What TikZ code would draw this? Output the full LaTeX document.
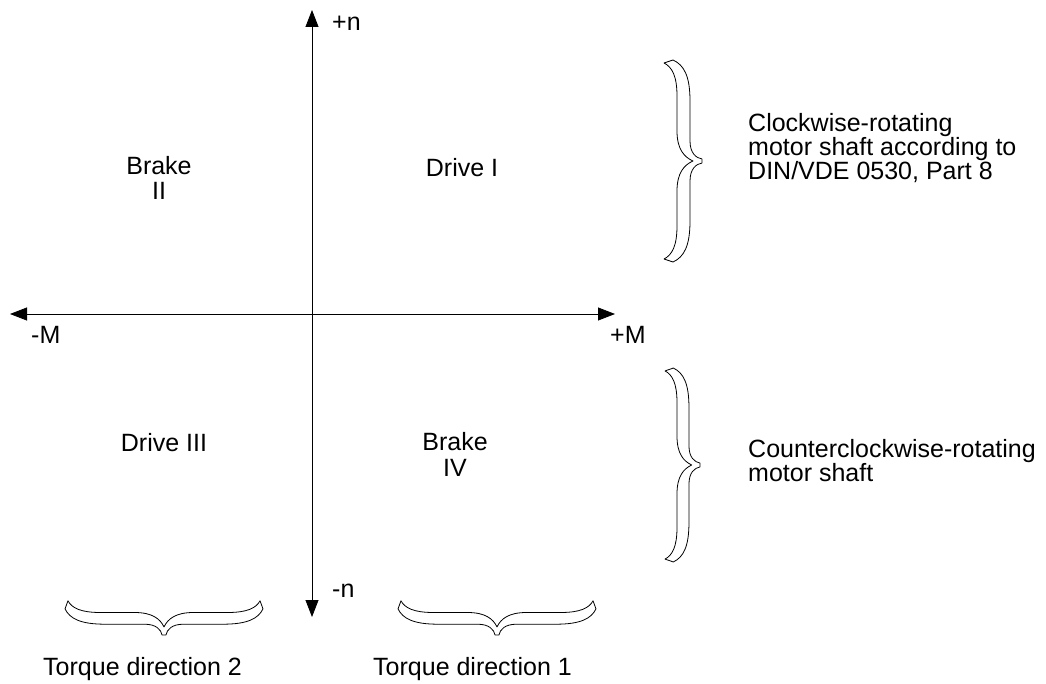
\documentclass[tikz,border=0pt]{standalone}
\usepackage{fontspec}
\setmainfont{Liberation Sans}
\usetikzlibrary{arrows.meta}
\tikzset{
  lbl/.style={font=\fontsize{25}{24}\selectfont, inner sep=0pt},
  axis/.style={line width=0.8pt, {Triangle[length=17pt,width=13pt]}-{Triangle[length=17pt,width=13pt]}},
  bracestyle/.style={line width=0.8pt, draw=black, fill=white, line join=round},
  mybrace/.pic={
    \draw[bracestyle] (-38,98) -- (-29,101)
      .. controls (-18,96) and (-12,85) .. (-12,60) -- (-12,20)
      .. controls (-12,8) and (-6,3) .. (0,2) -- (0,-2)
      .. controls (-6,-3) and (-12,-8) .. (-12,-20) -- (-12,-60)
      .. controls (-12,-85) and (-18,-96) .. (-29,-101) -- (-38,-98)
      .. controls (-30,-94) and (-25,-85) .. (-25,-65) -- (-25,-30)
      .. controls (-25,-12) and (-18,-4) .. (-9,0)
      .. controls (-18,4) and (-25,12) .. (-25,30) -- (-25,65)
      .. controls (-25,85) and (-30,94) .. (-38,98) -- cycle;
  }
}
\begin{document}
\begin{tikzpicture}[x=1pt,y=1pt]
\useasboundingbox (0,0) rectangle (1046,-684);
% axes
\coordinate (ntop) at (312,-10);
\coordinate (nbot) at (312,-617);
\coordinate (mleft) at (10,-314);
\coordinate (mright) at (615,-314);
\draw[axis] (nbot) -- (ntop);
\draw[axis] (mleft) -- (mright);
% axis labels
\node[lbl, anchor=base west] (pn) at (332,-31) {+n};
\node[lbl, anchor=base west] (mn) at (332,-597) {-n};
\node[lbl, anchor=base west] (mM) at (31,-344) {-M};
\node[lbl, anchor=base west] (pM) at (610,-343) {+M};
% quadrant labels
\node[lbl, anchor=base] (brake2a) at (159,-175) {Brake};
\node[lbl, anchor=base] (brake2b) at (159,-200) {II};
\node[lbl, anchor=base] (drive1) at (462,-177) {Drive I};
\node[lbl, anchor=base] (drive3) at (164,-451) {Drive III};
\node[lbl, anchor=base] (brake4a) at (455,-450) {Brake};
\node[lbl, anchor=base] (brake4b) at (455,-476) {IV};
% right texts
\node[lbl, anchor=base west] (cw1) at (748,-132) {Clockwise-rotating};
\node[lbl, anchor=base west] (cw2) at (748,-156) {motor shaft according to};
\node[lbl, anchor=base west] (cw3) at (748,-180) {DIN/VDE 0530, Part 8};
\node[lbl, anchor=base west] (ccw1) at (748,-457) {Counterclockwise-rotating};
\node[lbl, anchor=base west] (ccw2) at (748,-481) {motor shaft};
% bottom texts
\node[lbl, anchor=base west] (td2) at (43,-675) {Torque direction 2};
\node[lbl, anchor=base west] (td1) at (373,-675) {Torque direction 1};
% braces
\pic (br1) at (702,-161) {mybrace};
\pic[yscale=0.96, xscale=0.92] (br2) at (700,-465) {mybrace};
\pic[rotate=-90, yscale=0.98, xscale=0.9] (br3) at (164,-635) {mybrace};
\pic[rotate=-90, yscale=0.98, xscale=0.9] (br4) at (497,-635) {mybrace};
\end{tikzpicture}
\end{document}
